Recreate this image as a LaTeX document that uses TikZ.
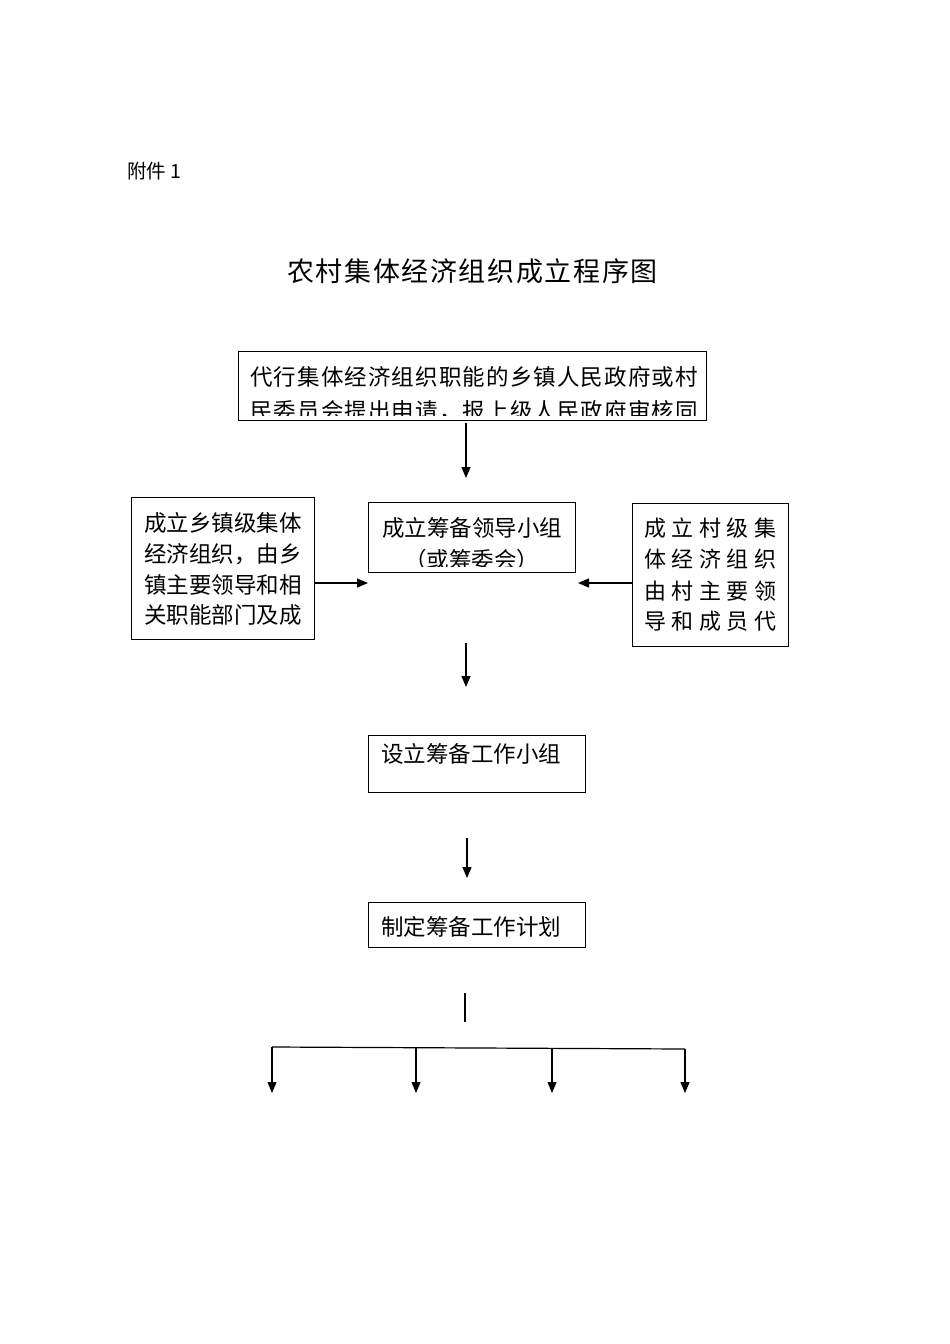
\documentclass[tikz,border=0pt]{standalone}
\usepackage{fontspec}
\setmainfont{Noto Sans CJK SC}
\newfontfamily\cjkA[LetterSpace=5]{Noto Sans CJK SC}
\newfontfamily\cjkB[LetterSpace=25]{Noto Sans CJK SC}
\newfontfamily\cjkT[LetterSpace=6]{Noto Sans CJK SC}
\usetikzlibrary{arrows.meta}
\begin{document}
\begin{tikzpicture}[x=1pt,y=-1pt,
  box/.style={draw, line width=1.2pt, inner sep=0pt, anchor=north west},
  txt/.style={inner sep=0pt, anchor=base west, font=\fontsize{22.5}{22.5}\selectfont},
  arr/.style={line width=1.2pt, -{Triangle[length=11pt,width=9pt]}},
  ln/.style={line width=1.2pt}]
\useasboundingbox[fill=white] (0,0) rectangle (950,1344);

% header and title
\node[inner sep=0pt, anchor=base west, font=\fontsize{19.5}{19.5}\selectfont] (att) at (127,178) {附件 1};
\node[inner sep=0pt, anchor=base west, font=\cjkT\fontsize{27}{27}\selectfont] (title) at (287,281) {农村集体经济组织成立程序图};

% boxes
\node[box, minimum width=468pt, minimum height=69pt] (b1) at (238,351) {};
\node[box, minimum width=183pt, minimum height=142pt] (L) at (131,497) {};
\node[box, minimum width=207pt, minimum height=70pt] (M) at (368,502) {};
\node[box, minimum width=156pt, minimum height=143pt] (R) at (632,503) {};
\node[box, minimum width=217pt, minimum height=57pt] (S) at (368,735) {};
\node[box, minimum width=217pt, minimum height=45pt] (P) at (368,902) {};

% texts
\begin{scope}
  \clip (238,351) rectangle (706,415);
  \node[txt, font=\cjkA\fontsize{22.5}{22.5}\selectfont] (b1t1) at (250,385) {代行集体经济组织职能的乡镇人民政府或村};
  \node[txt, font=\cjkA\fontsize{22.5}{22.5}\selectfont] (b1t2) at (250,419) {民委员会提出申请，报上级人民政府审核同};
\end{scope}
\node[txt] (Lt1) at (144,531) {成立乡镇级集体};
\node[txt] (Lt2) at (144,562) {经济组织，由乡};
\node[txt] (Lt3) at (144,593) {镇主要领导和相};
\node[txt] (Lt4) at (144,623) {关职能部门及成};
\begin{scope}
  \clip (368,502) rectangle (575,566);
  \node[txt] (Mt1) at (382,536) {成立筹备领导小组};
  \node[txt] (Mt2) at (404,568) {（或筹委会）};
\end{scope}
\node[txt, font=\cjkB\fontsize{22}{22}\selectfont] (Rt1) at (644,536) {成立村级集};
\node[txt, font=\cjkB\fontsize{22}{22}\selectfont] (Rt2) at (644,567) {体经济组织};
\node[txt, font=\cjkB\fontsize{22}{22}\selectfont] (Rt3) at (644,599) {由村主要领};
\node[txt, font=\cjkB\fontsize{22}{22}\selectfont] (Rt4) at (644,629) {导和成员代};
\node[txt] (St) at (381,762) {设立筹备工作小组};
\node[txt] (Pt) at (381,935) {制定筹备工作计划};

% connectors
\coordinate (a1s) at (466,423);
\coordinate (a1e) at (466,478);
\draw[arr] (a1s) -- (a1e);
\coordinate (ml) at (368,583);
\coordinate (mr) at (578,583);
\draw[arr] (L.east |- ml) -- (ml);
\draw[arr] (R.west |- mr) -- (mr);
\coordinate (a2s) at (466,643);
\coordinate (a2e) at (466,687);
\draw[arr] (a2s) -- (a2e);
\coordinate (a3s) at (467,838);
\coordinate (a3e) at (467,878);
\draw[arr] (a3s) -- (a3e);
\coordinate (v1) at (465,993);
\coordinate (v2) at (465,1022);
\draw[ln] (v1) -- (v2);
\coordinate (h1) at (272,1047);
\coordinate (h2) at (416,1047.7);
\coordinate (h3) at (552,1048.3);
\coordinate (h4) at (685,1049);
\draw[ln] (h1) -- (h4);
\coordinate (d1) at (272,1093);
\coordinate (d2) at (416,1093);
\coordinate (d3) at (552,1093);
\coordinate (d4) at (685,1093);
\draw[arr] (h1) -- (d1);
\draw[arr] (h2) -- (d2);
\draw[arr] (h3) -- (d3);
\draw[arr] (h4) -- (d4);
\end{tikzpicture}
\end{document}
